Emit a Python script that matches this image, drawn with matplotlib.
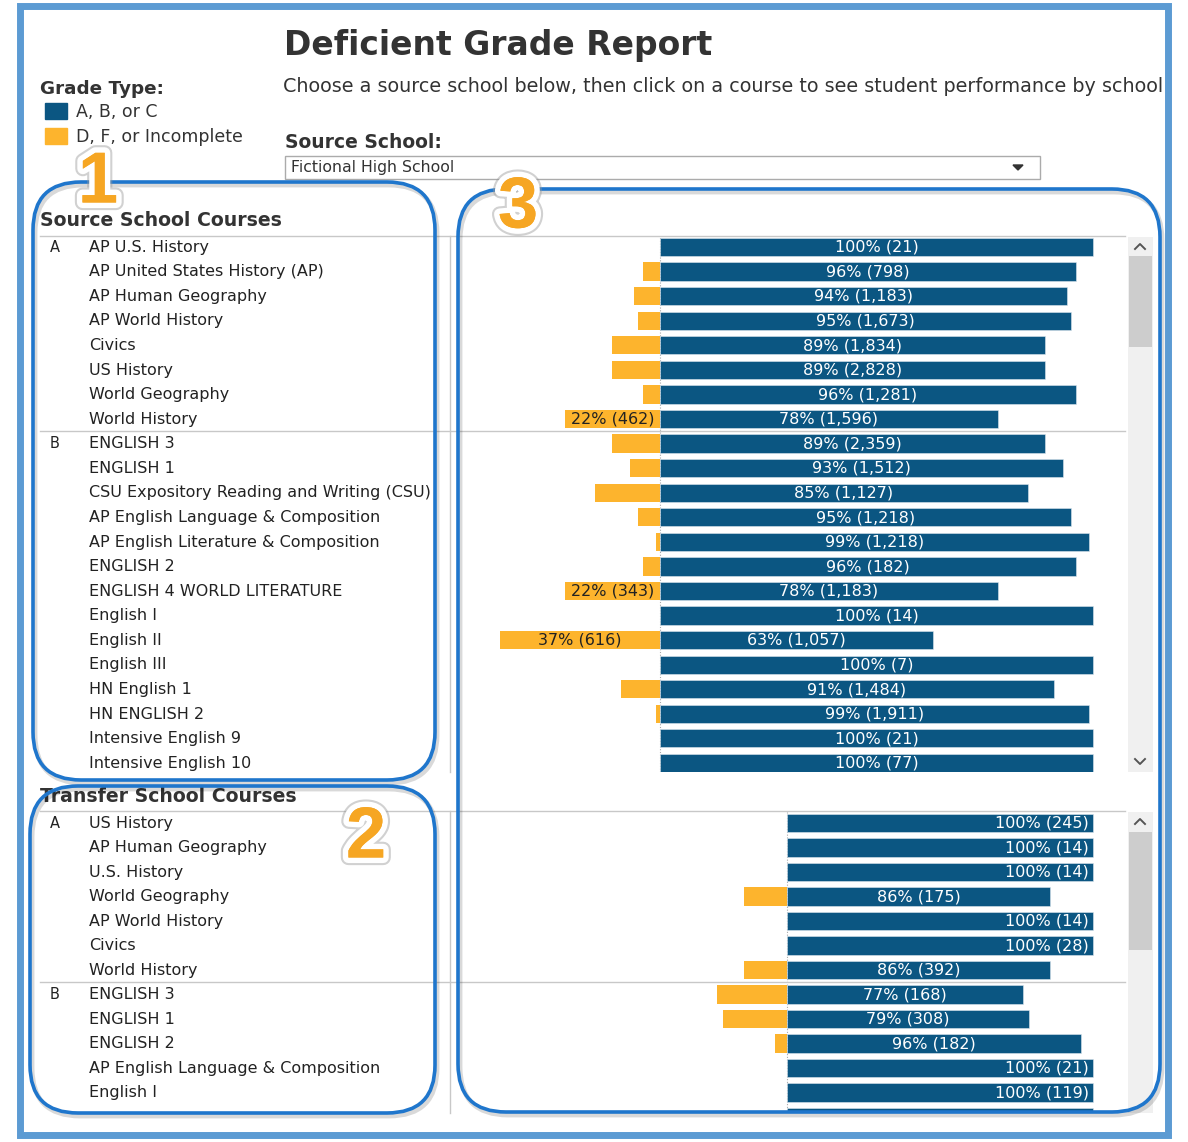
import matplotlib
matplotlib.use("Agg")
import matplotlib.pyplot as plt
import matplotlib.transforms as mtransforms
import matplotlib.patheffects as pe
from matplotlib.patches import FancyBboxPatch, Rectangle, Polygon

# ---------------- data ----------------
title = "Deficient Grade Report"
subtitle = "Choose a source school below, then click on a course to see student performance by school"
legend_labels = ["A, B, or C", "D, F, or Incomplete"]
source_school = "Fictional High School"

source_groups = ["A"] * 8 + ["B"] * 14
source_courses = ["AP U.S. History", "AP United States History (AP)", "AP Human Geography",
                  "AP World History", "Civics", "US History", "World Geography", "World History",
                  "ENGLISH 3", "ENGLISH 1", "CSU Expository Reading and Writing (CSU)",
                  "AP English Language & Composition", "AP English Literature & Composition",
                  "ENGLISH 2", "ENGLISH 4 WORLD LITERATURE", "English I", "English II",
                  "English III", "HN English 1", "HN ENGLISH 2", "Intensive English 9",
                  "Intensive English 10"]
source_abc_pct = [100, 96, 94, 95, 89, 89, 96, 78, 89, 93, 85, 95, 99, 96, 78, 100, 63, 100, 91, 99, 100, 100]
source_abc_n = [21, 798, 1183, 1673, 1834, 2828, 1281, 1596, 2359, 1512, 1127, 1218, 1218, 182,
                1183, 14, 1057, 7, 1484, 1911, 21, 77]
source_dfi_n = [None, None, None, None, None, None, None, 462, None, None, None, None, None, None,
                343, None, 616, None, None, None, None, None]

transfer_groups = ["A"] * 7 + ["B"] * 5
transfer_courses = ["US History", "AP Human Geography", "U.S. History", "World Geography",
                    "AP World History", "Civics", "World History", "ENGLISH 3", "ENGLISH 1",
                    "ENGLISH 2", "AP English Language & Composition", "English I"]
transfer_abc_pct = [100, 100, 100, 86, 100, 100, 86, 77, 79, 96, 100, 100]
transfer_abc_n = [245, 14, 14, 175, 14, 28, 392, 168, 308, 182, 21, 119]
transfer_dfi_n = [None] * 12

# ---------------- style ----------------
plt.rcParams["font.family"] = ["DejaVu Sans"]
NUMFONT = "Liberation Sans"
DARK = "#0B5682"
ORANGE = "#FDB42D"
TXT = "#333333"
FRAME = "#5C9BD3"
ANN = "#1F76CC"
W, H = 1188, 1142
VA = "center_baseline"

fig = plt.figure(figsize=(W / 100, H / 100), dpi=100)
bg = fig.add_axes([0, 0, 1, 1], zorder=0)
bg.set_xlim(0, W)
bg.set_ylim(H, 0)
bg.axis("off")


def px_axes(x0, y0, x1, y1, z=1):
    return fig.add_axes([x0 / W, 1 - y1 / H, (x1 - x0) / W, (y1 - y0) / H], zorder=z)


# outer frame
bg.add_patch(Rectangle((20, 6), 1148, 1129, fill=False, ec=FRAME, lw=5))

# header texts
bg.text(284, 42, title, fontsize=23.8, fontweight="bold", color=TXT, va=VA, ha="left")
bg.text(283, 85, subtitle, fontsize=13.75, color=TXT, va=VA, ha="left")
bg.text(40, 87, "Grade Type:", fontsize=13.2, fontweight="bold", color=TXT, va=VA)
bg.add_patch(Rectangle((45, 103), 22, 16, color=DARK))
bg.add_patch(Rectangle((45, 128), 22, 16, color=ORANGE))
bg.text(76, 110, legend_labels[0], fontsize=12.5, color=TXT, va=VA)
bg.text(76, 135, legend_labels[1], fontsize=12.5, color=TXT, va=VA)
bg.text(285, 141, "Source School:", fontsize=13.5, fontweight="bold", color=TXT, va=VA)
bg.add_patch(Rectangle((285, 156), 755, 23, fill=True, fc="white", ec="#ABABAB", lw=1))
bg.text(291, 166, source_school, fontsize=11.3, color=TXT, va=VA)
bg.add_patch(Polygon([(1013, 165), (1023, 165), (1018, 170)], closed=True, color="#333333"))


def panel(header, header_y, top, bottom, zero_px, full_px, groups, courses, pct, n_abc, n_dfi,
          first_row_y, row_step, thumb, right_align_full, extra_rows=0):
    bg.text(40, header_y, header, fontsize=13.6, fontweight="bold", color=TXT, va=VA)
    bg.plot([40, 1125], [top - 1, top - 1], color="#C8C8C8", lw=1)
    bg.plot([450, 450], [top - 1, bottom], color="#C8C8C8", lw=1)
    # scrollbar
    bg.add_patch(Rectangle((1128, top), 25, bottom - top, color="#F0F0F0", lw=0))
    bg.add_patch(Rectangle((1129, thumb[0]), 23, thumb[1] - thumb[0], color="#CDCDCD", lw=0))
    bg.plot([1135, 1140, 1145], [top + 12, top + 7, top + 12], color="#555555", lw=1.4)

    ax = px_axes(452, top, 1125, bottom)
    scale = (full_px - zero_px) / 100.0
    ax.set_xlim((452 - zero_px) / scale, (1125 - zero_px) / scale)
    ax.set_ylim((bottom - first_row_y) / row_step, (top - first_row_y) / row_step)
    ax.axis("off")
    ypos = list(range(len(pct)))
    dfi_pct = [100 - p for p in pct]
    ax.barh(ypos, pct, height=0.74, color=DARK, ec="#DDE6EE", lw=0.4)
    ax.barh(ypos, [-d for d in dfi_pct], height=0.74, color=ORANGE, lw=0)
    if extra_rows:
        ax.barh([len(pct) + k for k in range(extra_rows)], [100] * extra_rows, height=0.74,
                color=DARK, ec="#DDE6EE", lw=0.4)
    ax.axvline(0, color="#AAAAAA", lw=0.8, ls=(0, (1, 1.5)), zorder=0.5)
    for i, (p, n, nd) in enumerate(zip(pct, n_abc, n_dfi)):
        lab = f"{p}% ({n:,})"
        if right_align_full and p == 100:
            ax.text(p - 1.3, i - 0.05, lab, color="white", fontsize=11.5, ha="right", va=VA)
        else:
            ax.text(p / 2, i - 0.05, lab, color="white", fontsize=11.5, ha="center", va=VA)
        if nd is not None:
            ax.text(-(100 - p) / 2, i - 0.05, f"{100 - p}% ({nd:,})", color="#222222",
                    fontsize=11.5, ha="center", va=VA)
    # row labels
    tr = mtransforms.blended_transform_factory(bg.transData, ax.transData)
    prev = None
    for i, (g, c) in enumerate(zip(groups, courses)):
        if g != prev:
            ax.text(50, i - 0.05, g, transform=tr, fontsize=10.5, color="#222222", va=VA,
                    clip_on=False)
            if prev is not None:
                ax.plot([40, 1125], [i - 0.5, i - 0.5], transform=tr, color="#C8C8C8", lw=1,
                        clip_on=False)
            prev = g
        ax.text(89, i - 0.05, c, transform=tr, fontsize=11.5, color="#222222", va=VA,
                clip_on=False)
    return ax


ax1 = panel("Source School Courses", 219, 237, 772, 660, 1093, source_groups, source_courses,
            source_abc_pct, source_abc_n, source_dfi_n, 247, 24.57, (256, 347), False)
bg.plot([1135, 1140, 1145], [759, 764, 759], color="#555555", lw=1.4, zorder=3)

ax2 = panel("Transfer School Courses", 794, 812, 1113, 787, 1093, transfer_groups, transfer_courses,
            transfer_abc_pct, transfer_abc_n, transfer_dfi_n, 823, 24.5, (832, 950), True,
            extra_rows=1)

# ---------------- annotation overlay ----------------
ov = fig.add_axes([0, 0, 1, 1], zorder=5)
ov.set_xlim(0, W)
ov.set_ylim(H, 0)
ov.axis("off")
ov.patch.set_alpha(0)

for (x0, y0, x1, y1) in [(33, 182, 435, 780), (30, 786, 435, 1113), (458, 189, 1160, 1112)]:
    ov.add_patch(FancyBboxPatch((x0 + 2, y0 + 3), x1 - x0, y1 - y0,
                                boxstyle="round,pad=0,rounding_size=48", fill=False,
                                ec="#000000", alpha=0.15, lw=3.5))
    ov.add_patch(FancyBboxPatch((x0, y0), x1 - x0, y1 - y0,
                                boxstyle="round,pad=0,rounding_size=48", fill=False, ec=ANN, lw=2.6))

for s, x, y in [("1", 98, 176), ("2", 366, 831), ("3", 518, 201)]:
    t = ov.text(x, y, s, fontsize=52, fontweight="bold", color="#F6A623", ha="center",
                va="center_baseline", family=NUMFONT)
    t.set_path_effects([pe.withStroke(linewidth=11, foreground="#999999", alpha=0.45),
                        pe.withStroke(linewidth=8, foreground="white"), pe.Normal()])

fig.savefig("out.png", dpi=100, facecolor="white")
